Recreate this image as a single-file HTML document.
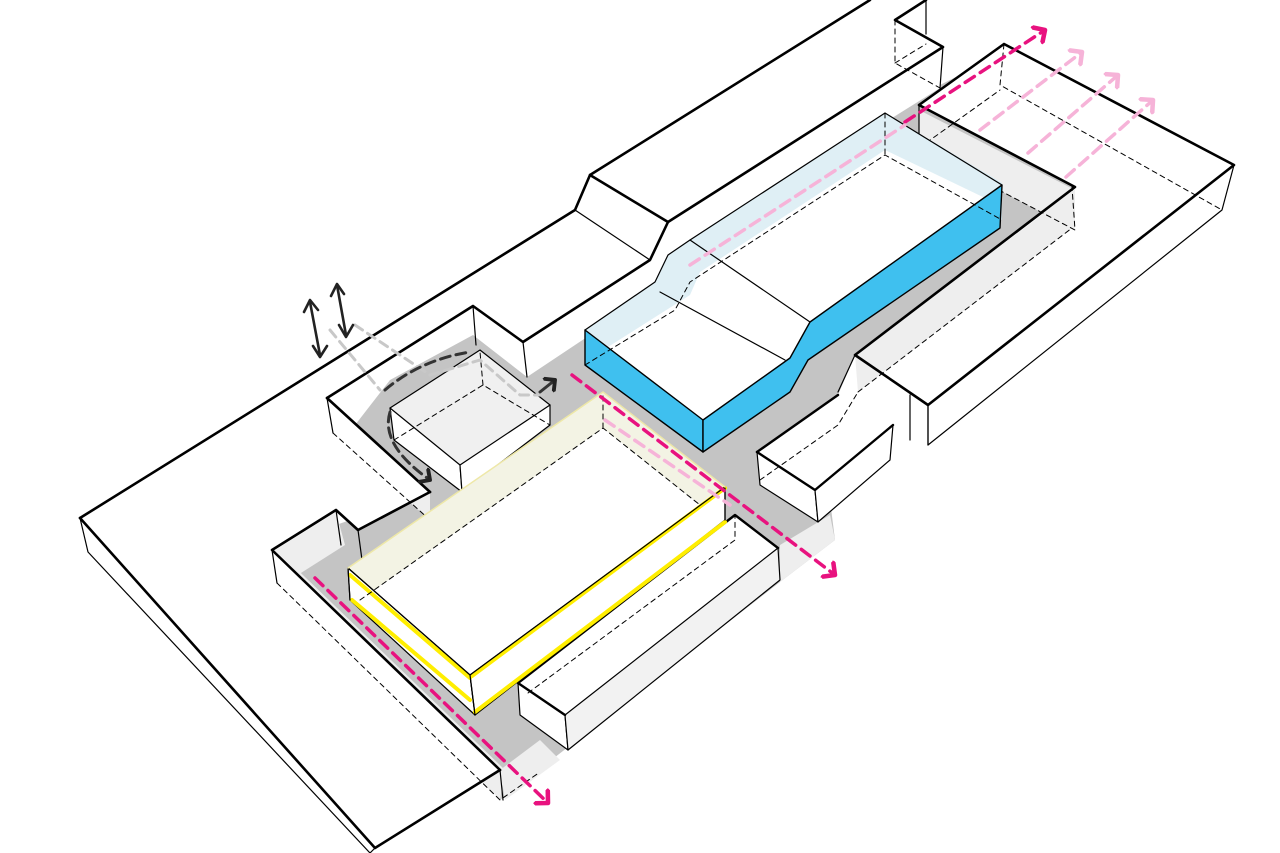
<!DOCTYPE html>
<html><head><meta charset="utf-8"><style>html,body{margin:0;padding:0;background:#fff}svg{display:block}</style></head>
<body>
<svg width="1280" height="853" viewBox="0 0 1280 853" xmlns="http://www.w3.org/2000/svg" stroke-linejoin="round" stroke-linecap="round">
<defs>
<marker id="pk" markerWidth="6" markerHeight="6" refX="3" refY="3" orient="auto" markerUnits="strokeWidth"><path d="M0.5,0.5 L3,3 L0.5,5.5" fill="none" stroke="#e8127f" stroke-width="1.3"/></marker>
<marker id="lp" markerWidth="6" markerHeight="6" refX="3" refY="3" orient="auto" markerUnits="strokeWidth"><path d="M0.5,0.5 L3,3 L0.5,5.5" fill="none" stroke="#f6b3d8" stroke-width="1.3"/></marker>
<marker id="bk" markerWidth="6" markerHeight="6" refX="3" refY="3" orient="auto" markerUnits="strokeWidth"><path d="M0.5,0.5 L3,3 L0.5,5.5" fill="none" stroke="#222" stroke-width="1.3"/></marker>
</defs>

<!-- ground gray -->
<polygon fill="#c4c4c4" points="390,380 473,335 527,377 650,295 668,255 940,85 960,75 1075,187 855,355 838,395 820,420 835,540 780,582 500,800 272,560 336,525 430,492 345,438"/>
<!-- light gray patches -->
<polygon fill="#eeeeee" points="272,552 336,512 345,545 282,585"/>
<polygon fill="#eeeeee" points="282,585 500,800 505,770 277,550"/>
<polygon fill="#eeeeee" points="500,770 540,740 560,760 505,800"/>
<polygon fill="#eeeeee" points="327,400 430,492 430,520 333,435"/>
<polygon fill="#eeeeee" points="895,20 940,48 940,88 895,62"/>
<polygon fill="#eeeeee" points="780,545 830,515 835,540 780,582"/>

<!-- left big slab -->
<polygon fill="#fff" stroke="none" points="80,518 575,210 590,175 870,0 926,0 895,20 943,47 940,88 668,258 650,260 523,342 473,306 327,398 430,492 358,530 336,510 272,550 500,770 375,848 80,518"/>
<polygon fill="#fff" stroke="#000" stroke-width="1.2" points="80,518 375,848 370,853 88,552"/>
<g fill="none" stroke="#000" stroke-width="2.6">
<polyline points="80,518 575,210 590,175 870,0"/>
<polyline points="80,518 375,848 500,770"/>
<polyline points="590,175 668,222 650,260 523,342 473,306 327,398"/>
<polyline points="668,222 943,47 895,20 926,0"/>
<polyline points="430,492 358,530 336,510 272,550 500,770"/>
<line x1="327" y1="398" x2="430" y2="492"/>
</g>
<g fill="none" stroke="#000" stroke-width="1.2">
<line x1="327" y1="398" x2="333" y2="433"/>
<line x1="523" y1="342" x2="527" y2="377"/>
<line x1="473" y1="306" x2="476" y2="345"/>
<line x1="272" y1="550" x2="277" y2="583"/>
<line x1="336" y1="510" x2="341" y2="545"/>
<line x1="358" y1="530" x2="362" y2="560"/>
<line x1="500" y1="770" x2="503" y2="800"/>
<line x1="943" y1="47" x2="940" y2="88"/>
<line x1="926" y1="0" x2="926" y2="34"/>
<line x1="575" y1="210" x2="650" y2="260"/>
</g>
<g fill="none" stroke="#000" stroke-width="1" stroke-dasharray="5,4">
<polyline points="333,433 430,520"/>
<polyline points="277,583 500,800 540,772"/>
<polyline points="895,20 895,63 940,88"/>
<line x1="895" y1="63" x2="926" y2="44"/>
</g>

<!-- right building -->
<polygon fill="#fff" points="919,105 1004,44 1234,165 928,405 855,355 1075,187"/>
<polygon fill="#fff" stroke="#000" stroke-width="1.2" points="928,405 1234,165 1222,210 928,445"/>
<polygon fill="#eeeeee" points="919,110 919,148 1075,230 1075,190"/>
<polygon fill="#eeeeee" points="858,392 1072,228 1075,190 855,355"/>
<g fill="none" stroke="#000" stroke-width="2.6">
<polyline points="919,105 1004,44 1234,165 928,405 855,355 1075,187 919,105"/>
</g>
<g fill="none" stroke="#000" stroke-width="1.2">
<line x1="919" y1="105" x2="919" y2="148"/>
<line x1="928" y1="405" x2="928" y2="445"/>
<line x1="855" y1="355" x2="838" y2="392"/>
<line x1="910" y1="395" x2="910" y2="440"/>
</g>
<g fill="none" stroke="#000" stroke-width="1" stroke-dasharray="5,4">
<polyline points="919,148 1075,230 1072,187"/>
<polyline points="1004,44 1000,85 1222,210"/>
<line x1="919" y1="148" x2="1000" y2="90"/>
<line x1="858" y1="392" x2="1072" y2="228"/>
</g>

<!-- small right block -->
<polygon fill="#fff" stroke="none" points="757,452 838,395 893,425 815,490"/>
<polygon fill="#fff" stroke="#000" stroke-width="1.2" points="757,452 815,490 818,522 760,485"/>
<polygon fill="#fff" stroke="#000" stroke-width="1.2" points="815,490 893,425 890,460 818,522"/>
<g fill="none" stroke="#000" stroke-width="2.4"><polyline points="757,452 838,395"/><polyline points="757,452 815,490 893,425"/></g>
<polyline fill="none" stroke="#000" stroke-width="1" stroke-dasharray="5,4" points="760,480 838,425 858,392"/>

<!-- blue building -->
<polygon fill="#d7ebf3" stroke="none" points="585,330 655,282 668,255 690,240 885,113 1002,183 1002,220 885,150 700,275 690,300 675,310 585,365"/>
<polygon fill="#fff" stroke="none" points="585,330 655,282 668,255 690,240 885,113 1002,185 810,322 790,358 703,420"/>
<polygon fill="#d7ebf3" opacity="0.8" points="585,330 655,282 668,255 690,240 885,113 885,150 700,272 690,295 600,352"/>
<polygon fill="#d7ebf3" opacity="0.8" points="885,113 1002,185 985,198 885,150"/>
<polygon fill="#3fc0ef" stroke="#000" stroke-width="1.4" points="585,330 703,420 703,452 585,365"/>
<polygon fill="#3fc0ef" stroke="#000" stroke-width="1.4" points="703,420 790,358 810,322 1002,185 1000,228 808,360 790,392 703,452"/>
<g fill="none" stroke="#000" stroke-width="1.2">
<polyline points="585,330 655,282 668,255 690,240 885,113 1002,185"/>
<line x1="660" y1="292" x2="785" y2="360"/>
<line x1="690" y1="240" x2="810" y2="322"/>
</g>
<g fill="none" stroke="#000" stroke-width="1" stroke-dasharray="5,4">
<polyline points="585,365 675,310 690,282 885,155 1002,220"/>
<line x1="885" y1="113" x2="885" y2="155"/>
</g>

<!-- courtyard small box -->
<polygon fill="#f0f0f0" points="390,408 480,350 550,405 460,465"/>
<polygon fill="#fff" stroke="#000" stroke-width="1.2" points="390,408 460,465 462,492 394,440"/>
<polygon fill="#fff" stroke="#000" stroke-width="1.2" points="460,465 550,405 550,425 462,492"/>
<polyline fill="none" stroke="#000" stroke-width="1.2" points="390,408 480,350 550,405"/>
<polyline fill="none" stroke="#000" stroke-width="1" stroke-dasharray="5,4" points="394,440 483,385 550,425"/>
<line x1="483" y1="385" x2="480" y2="352" stroke="#000" stroke-width="1" stroke-dasharray="5,4"/>

<!-- lower right box -->
<polygon fill="#fff" points="518,683 735,515 778,548 565,715"/>
<polygon fill="#fff" stroke="#000" stroke-width="1.2" points="518,683 565,715 568,750 520,715"/>
<polygon fill="#f2f2f2" stroke="#000" stroke-width="1.2" points="565,715 778,548 780,580 568,750"/>
<polyline fill="none" stroke="#000" stroke-width="2.4" points="565,715 518,683 735,515 778,548"/>
<polyline fill="none" stroke="#000" stroke-width="1" stroke-dasharray="5,4" points="528,693 735,540 735,515"/>

<!-- yellow building -->
<polygon fill="#f3f3e4" points="348,568 603,392 725,487 700,505 603,428 360,600"/>
<polygon fill="#fff" points="360,600 603,428 700,505 470,675"/>
<polygon fill="#fff" stroke="#000" stroke-width="1.2" points="348,568 470,675 475,715 350,600"/>
<polygon fill="#fff" stroke="#000" stroke-width="1.2" points="470,675 725,487 725,520 475,715"/>
<g fill="none" stroke="#ffee00" stroke-width="4">
<polyline points="352,600 470,700"/>
<polyline points="475,712 725,522"/>
<polyline points="472,676 725,488"/>
<polyline points="350,575 470,678"/>
</g>
<g fill="none" stroke="#000" stroke-width="1.2">
<polyline points="348,568 470,675 725,487"/>
<line x1="470" y1="675" x2="475" y2="715"/>
<line x1="725" y1="487" x2="725" y2="520"/>
<line x1="348" y1="568" x2="350" y2="600"/>
</g>
<polyline fill="none" stroke="#eee8a8" stroke-width="1.5" points="348,568 603,392 725,487"/>
<polyline fill="none" stroke="#000" stroke-width="1" stroke-dasharray="5,4" points="360,600 603,428 700,505"/>
<line x1="603" y1="428" x2="603" y2="394" stroke="#000" stroke-width="1" stroke-dasharray="5,4"/>

<!-- grey path dashed -->
<polyline fill="none" stroke="#c8c8c8" stroke-width="3" stroke-dasharray="9,6" points="330,330 380,390"/>
<polyline fill="none" stroke="#c8c8c8" stroke-width="3" stroke-dasharray="9,6" points="355,325 430,375 480,360 520,395 545,395"/>
<path d="M385,390 Q420,360 470,352" fill="none" stroke="#333" stroke-width="3" stroke-dasharray="10,6"/>
<path d="M390,412 Q380,445 430,480" fill="none" stroke="#333" stroke-width="3" stroke-dasharray="10,6" marker-end="url(#bk)"/>
<line x1="540" y1="392" x2="555" y2="380" stroke="#333" stroke-width="3" marker-end="url(#bk)"/>

<!-- black double arrows -->
<g stroke="#222" stroke-width="2.6" fill="none">
<line x1="310" y1="302" x2="320" y2="355"/>
<polyline points="304,312 310,300 318,310"/><polyline points="313,346 320,357 327,346"/>
<line x1="337" y1="285" x2="346" y2="335"/>
<polyline points="331,296 337,284 344,294"/><polyline points="339,325 346,337 353,325"/>
</g>

<!-- pink arrows -->
<g fill="none" stroke-width="3.5" stroke-dasharray="11,7">
<line x1="315" y1="578" x2="548" y2="803" stroke="#e8127f" marker-end="url(#pk)"/>
<line x1="572" y1="375" x2="835" y2="575" stroke="#e8127f" marker-end="url(#pk)"/>
<line x1="905" y1="122" x2="1045" y2="30" stroke="#e8127f" marker-end="url(#pk)"/>
<line x1="690" y1="265" x2="905" y2="125" stroke="#f6b3d8"/>
<line x1="980" y1="130" x2="1082" y2="52" stroke="#f6b3d8" marker-end="url(#lp)"/>
<line x1="1028" y1="153" x2="1118" y2="75" stroke="#f6b3d8" marker-end="url(#lp)"/>
<line x1="1066" y1="177" x2="1153" y2="100" stroke="#f6b3d8" marker-end="url(#lp)"/>
<line x1="605" y1="420" x2="730" y2="505" stroke="#f6b3d8"/>
</g>
</svg>
</body></html>
